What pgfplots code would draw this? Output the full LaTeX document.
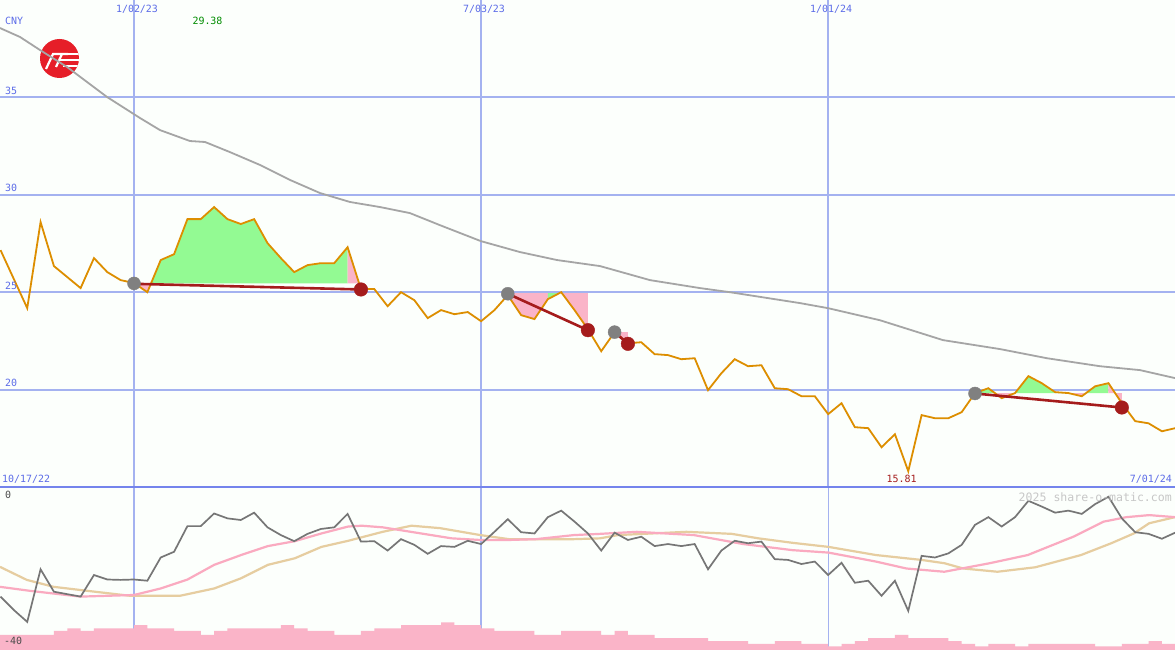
\documentclass[border=0pt]{standalone}
\usepackage{pgfplots}
\pgfplotsset{compat=1.18}
\usepackage{fontspec}
\setmonofont{DejaVu Sans Mono}

\definecolor{bgc}{RGB}{252,255,252}
\definecolor{gridc}{RGB}{164,178,240}
\definecolor{sepc}{RGB}{116,132,236}
\definecolor{lblc}{RGB}{92,108,232}
\definecolor{pricec}{RGB}{221,142,0}
\definecolor{mac}{RGB}{165,165,165}
\definecolor{sigred}{RGB}{165,28,28}
\definecolor{sigdot}{RGB}{128,128,128}
\definecolor{sgreen}{RGB}{147,250,147}
\definecolor{spink}{RGB}{250,180,200}
\definecolor{momc}{RGB}{118,118,118}
\definecolor{mapink}{RGB}{250,170,192}
\definecolor{matan}{RGB}{230,205,160}
\definecolor{logored}{RGB}{230,30,40}

\begin{document}
\begin{tikzpicture}[x=1bp,y=1bp]
\useasboundingbox (0,0) rectangle (1175,650);
\fill[bgc] (0,0) rectangle (1175,650);

% logo
\begin{scope}
\fill[logored] (59.5,591.5) circle (19.5);
\clip (59.5,591.5) circle (19.5);
\draw[white, line width=2.2] (46,581) -- (53,596) -- (68,596);
\draw[white, line width=2.2] (56,583) -- (62,596);
\draw[white, line width=2.2] (60,590) -- (82,590);
\draw[white, line width=2.2] (63,584) -- (82,584);
\draw[white, line width=2.2] (66,596) -- (82,596);
\end{scope}

% price panel
\begin{axis}[at={(0bp,163bp)}, anchor=south west, scale only axis,
  width=1175bp, height=487bp,
  xmin=-10.04, xmax=77.98, ymin=15, ymax=40,
  axis line style={draw=none}, major tick length=0pt,
  xtick={0,26,52}, ytick={20,25,30,35},
  xticklabels={}, yticklabels={},
  xmajorgrids, ymajorgrids,
  x grid style={gridc, line width=1.6bp},
  y grid style={gridc, line width=2bp}]

% moving average
\addplot[mac, line width=1.8bp] coordinates {
(-10.04,38.56) (-8.54,38.10) (-7.04,37.43) (-5.02,36.56) (-2.02,35.02)
(0.45,33.94) (1.95,33.32) (4.19,32.76) (5.32,32.71) (7.19,32.19)
(9.44,31.53) (11.69,30.76) (13.93,30.09) (16.18,29.63) (18.43,29.37)
(20.67,29.06) (22.92,28.44) (25.99,27.62) (28.91,27.06) (31.69,26.65)
(34.91,26.34) (38.65,25.62) (42.40,25.21) (44.64,25.00) (49.89,24.44)
(51.99,24.18) (55.88,23.56) (60.60,22.54) (64.87,22.08) (68.39,21.61)
(72.36,21.20) (75.36,21.00) (77.98,20.59)};

% signal areas
\addplot[fill=spink, draw=none] coordinates {(0,25.45) (1,25.00) (1.27,25.45)} -- cycle;
\addplot[fill=sgreen, draw=none] coordinates {(1.27,25.45) (2,26.65) (3,26.95) (4,28.75) (5,28.75) (6,29.37) (7,28.75) (8,28.50) (9,28.75) (10,27.52) (11,26.75) (12,26.03) (13,26.39) (14,26.49) (15,26.49) (16,27.31) (16,25.45)} -- cycle;
\addplot[fill=spink, draw=none] coordinates {(16,25.45) (16,27.31) (17,25.16) (17,25.45)} -- cycle;

\addplot[fill=spink, draw=none] coordinates {(28,24.95) (28,24.85) (29,23.82) (30,23.62) (31,24.64) (31,24.95)} -- cycle;
\addplot[fill=sgreen, draw=none] coordinates {(31,24.64) (31.9,24.95) (31,24.95)} -- cycle;
\addplot[fill=spink, draw=none] coordinates {(32,24.95) (32,25.00) (33,24.08) (34,23.10) (34,24.95)} -- cycle;

\addplot[fill=spink, draw=none] coordinates {(36,22.95) (37,22.38) (37,22.95)} -- cycle;

\addplot[fill=sgreen, draw=none] coordinates {(63,19.82) (64,20.07) (64.49,19.82)} -- cycle;
\addplot[fill=spink, draw=none] coordinates {(64.49,19.82) (65,19.56) (66,19.82)} -- cycle;
\addplot[fill=sgreen, draw=none] coordinates {(66,19.82) (67,20.69) (68,20.33) (69,19.87) (70,19.82)} -- cycle;
\addplot[fill=spink, draw=none] coordinates {(70,19.82) (71,19.66) (71.31,19.82)} -- cycle;
\addplot[fill=sgreen, draw=none] coordinates {(71.31,19.82) (72,20.17) (73,20.33) (73,19.82)} -- cycle;
\addplot[fill=spink, draw=none] coordinates {(73,19.82) (73,20.33) (74,19.30) (74,19.82)} -- cycle;

% weekly close
\addplot[pricec, line width=1.8bp] table {
k p
-10 27.16
-8 24.18
-7 28.60
-6 26.34
-4 25.21
-3 26.75
-2 26.03
-1 25.62
0 25.47
1 25.00
2 26.65
3 26.95
4 28.75
5 28.75
6 29.37
7 28.75
8 28.50
9 28.75
10 27.52
11 26.75
12 26.03
13 26.39
14 26.49
15 26.49
16 27.31
17 25.16
18 25.16
19 24.28
20 25.00
21 24.59
22 23.67
23 24.08
24 23.87
25 23.98
26 23.51
27 24.08
28 24.85
29 23.82
30 23.62
31 24.64
32 25.00
33 24.08
34 23.10
35 21.97
36 22.95
37 22.38
38 22.43
39 21.82
40 21.77
41 21.56
42 21.61
43 19.97
44 20.84
45 21.56
46 21.20
47 21.25
48 20.07
49 20.02
50 19.66
51 19.66
52 18.74
53 19.30
54 18.07
55 18.02
56 17.04
57 17.71
58 15.81
59 18.69
60 18.53
61 18.53
62 18.84
63 19.82
64 20.07
65 19.56
66 19.82
67 20.69
68 20.33
69 19.87
70 19.82
71 19.66
72 20.17
73 20.33
74 19.30
75 18.38
76 18.27
77 17.86
78 18.02
};

% signal lines and markers
\addplot[sigred, line width=2.6bp] coordinates {(0,25.43) (17,25.14)};
\addplot[sigred, line width=2.6bp] coordinates {(28,24.92) (34,23.05)};
\addplot[sigred, line width=2.6bp] coordinates {(36,22.95) (37,22.35)};
\addplot[sigred, line width=2.6bp] coordinates {(63,19.80) (74,19.08)};
\addplot[only marks, mark=*, mark size=6.5bp, sigdot, mark options={draw=none, fill=sigdot}]
  coordinates {(0,25.45) (28,24.92) (36,22.95) (63,19.80)};
\addplot[only marks, mark=*, mark size=6.8bp, sigred, mark options={draw=none, fill=sigred}]
  coordinates {(17,25.14) (34,23.05) (37,22.35) (74,19.08)};
\end{axis}

% indicator panel
\begin{axis}[at={(0bp,0bp)}, anchor=south west, scale only axis,
  width=1175bp, height=163bp,
  xmin=-10.04, xmax=77.98, ymin=-40, ymax=0,
  axis line style={draw=none}, major tick length=0pt,
  xtick={0,26,52}, ytick=\empty, xticklabels={},
  xmajorgrids, x grid style={gridc, line width=1.3bp}]

\addplot[const plot, fill=spink, draw=none] coordinates {
(-10.04,-36.3) (-6,-35.3) (-5,-34.7) (-4,-35.3) (-3,-34.7) (0,-33.9) (1,-34.7)
(3,-35.3) (5,-36.3) (6,-35.3) (7,-34.7) (11,-33.9) (12,-34.7) (13,-35.3)
(15,-36.3) (17,-35.3) (18,-34.7) (20,-33.9) (23,-33.2) (24,-33.9) (26,-34.7)
(27,-35.3) (30,-36.3) (32,-35.3) (35,-36.3) (36,-35.3) (37,-36.3) (39,-37.1)
(43,-37.8) (46,-38.5) (48,-37.8) (50,-38.5) (52,-39.1) (53,-38.5) (54,-37.8)
(55,-37.1) (57,-36.3) (58,-37.1) (61,-37.8) (62,-38.5) (63,-39.1) (64,-38.5)
(66,-39.1) (67,-38.5) (72,-39.1) (74,-38.5) (76,-37.8) (77,-38.5) (77.98,-38.5)
(77.98,-41) (-10.04,-41)} -- cycle;

\addplot[matan, line width=2.2bp] coordinates {
(-10.04,-19.6) (-8.03,-22.8) (-6.02,-24.5) (-3.45,-25.5) (-0.29,-26.7)
(3.44,-26.7) (6.01,-24.9) (8.02,-22.4) (10.03,-19.1) (12.04,-17.5)
(14.04,-14.7) (16.05,-13.2) (18.63,-11.0) (20.78,-9.5) (22.93,-10.1)
(25.94,-11.8) (28.09,-12.8) (30.96,-12.8) (32.96,-12.8) (34.91,-12.6)
(36.25,-11.8) (41.37,-11.0) (44.78,-11.5) (46.77,-12.6) (49.33,-13.7)
(52.03,-14.7) (55.58,-16.7) (59.0,-17.9) (60.7,-18.7) (62.12,-20.0)
(64.68,-20.8) (67.52,-19.7) (70.94,-16.7) (73.21,-13.8) (74.9,-11.4)
(76.05,-8.9) (77.98,-7.4)};

\addplot[mapink, line width=2.2bp] coordinates {
(-10.04,-24.5) (-7.75,-25.5) (-4.01,-26.9) (0,-26.5) (2.0,-24.9)
(4.01,-22.7) (6.01,-19.1) (8.02,-16.7) (10.03,-14.5) (12.04,-13.3)
(14.04,-11.4) (16.05,-9.7) (17.06,-9.5) (18.63,-9.9) (21.5,-11.4)
(23.79,-12.6) (25.94,-13.0) (28.09,-13.0) (30.1,-12.8) (32.96,-11.8)
(34.91,-11.5) (37.67,-11.0) (41.94,-11.8) (45.63,-14.0) (49.33,-15.5)
(52.03,-16.1) (55.58,-18.3) (57.86,-20.0) (60.7,-20.8) (64.11,-18.7)
(66.95,-16.7) (70.37,-12.2) (72.64,-8.5) (74.34,-7.4) (76.05,-6.9)
(77.98,-7.4)};

\addplot[momc, line width=1.7bp] table {
k v
-10 -26.9
-9 -30.2
-8 -33.1
-7 -20.2
-6 -25.7
-5 -26.3
-4 -26.9
-3 -21.6
-2 -22.7
-1 -22.8
0 -22.7
1 -23.0
2 -17.3
3 -15.9
4 -9.6
5 -9.6
6 -6.5
7 -7.7
8 -8.1
9 -6.3
10 -9.9
11 -11.8
12 -13.3
13 -11.5
14 -10.3
15 -9.9
16 -6.6
17 -13.4
18 -13.3
19 -15.6
20 -12.8
21 -14.2
22 -16.4
23 -14.5
24 -14.7
25 -13.2
26 -14.0
27 -11.0
28 -7.9
29 -11.1
30 -11.4
31 -7.4
32 -5.8
33 -8.5
34 -11.4
35 -15.6
36 -11.2
37 -13.0
38 -12.2
39 -14.5
40 -14.0
41 -14.5
42 -14.0
43 -20.2
44 -15.6
45 -13.2
46 -13.8
47 -13.4
48 -17.7
49 -17.9
50 -18.9
51 -18.3
52 -21.6
53 -18.6
54 -23.5
55 -23.0
56 -26.7
57 -23.0
58 -30.4
59 -16.9
60 -17.3
61 -16.3
62 -14.2
63 -9.3
64 -7.4
65 -9.7
66 -7.4
67 -3.4
68 -4.8
69 -6.3
70 -5.8
71 -6.6
72 -4.2
73 -2.4
74 -7.7
75 -11.1
76 -11.5
77 -12.7
78 -11.2
};
\end{axis}

\draw[sepc, line width=2.4] (0,163) -- (1175,163);

% text
\begin{scope}[every node/.style={inner sep=0pt, font=\ttfamily\fontsize{10}{12}\selectfont}]
\node[lblc] at (137,641) {1/02/23};
\node[lblc] at (484,641) {7/03/23};
\node[lblc] at (831,641) {1/01/24};
\node[lblc, anchor=west] at (5,629) {CNY};
\node[text=green!55!black] at (207.5,629) {29.38};
\node[lblc, anchor=west] at (5,559) {35};
\node[lblc, anchor=west] at (5,462) {30};
\node[lblc, anchor=west] at (5,364) {25};
\node[lblc, anchor=west] at (5,267) {20};
\node[lblc, anchor=west] at (2,171) {10/17/22};
\node[lblc, anchor=east] at (1172,171) {7/01/24};
\node[sigred] at (901.5,171) {15.81};
\node[black!70, anchor=west] at (5,155) {0};
\node[black!70, anchor=west] at (4,9) {-40};
\node[black!22, anchor=east, font=\ttfamily\fontsize{11.6}{13}\selectfont] at (1172,153) {2025 share-o-matic.com};
\end{scope}
\end{tikzpicture}
\end{document}
